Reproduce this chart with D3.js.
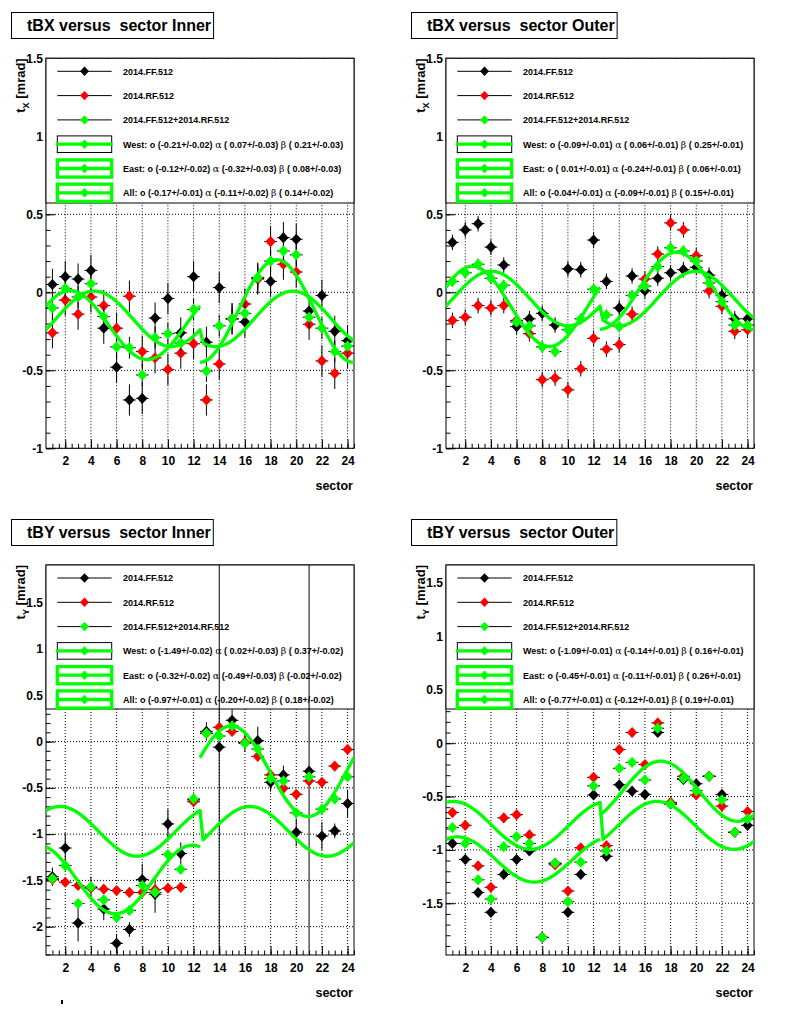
<!DOCTYPE html>
<html>
<head>
<meta charset="utf-8">
<script src="https://cdn.jsdelivr.net/npm/d3@7"></script>
<style>
  body {margin: 0; background: #fff;}
  text {font-family: "Liberation Sans", Arial, Helvetica, sans-serif; font-weight: bold;}
</style>
</head>
<body>
<div id="chart"></div>
<script>
const sectors = [1,2,3,4,5,6,7,8,9,10,11,12,13,14,15,16,17,18,19,20,21,22,23,24]
const xTickLabels = [2,4,6,8,10,12,14,16,18,20,22,24]
const seriesNames = ["2014.FF.512", "2014.RF.512", "2014.FF.512+2014.RF.512"]
const fitNames = ["West", "East", "All"]

// tBX Inner
const tbxInnerFF = [0.05,0.10,0.085,0.14,-0.23,-0.48,-0.69,-0.68,-0.165,-0.04,-0.26,0.10,-0.32,0.03,-0.17,-0.19,0.09,0.07,0.35,0.34,-0.12,-0.02,-0.25,-0.31]
const tbxInnerRF = [-0.26,-0.05,-0.14,-0.03,-0.085,-0.23,-0.025,-0.38,-0.42,-0.495,-0.39,-0.33,-0.69,-0.46,-0.17,-0.075,0.085,0.325,0.18,0.13,-0.205,-0.44,-0.52,-0.39]
const tbxInnerAll = [-0.10,0.025,-0.03,0.055,-0.155,-0.35,-0.355,-0.53,-0.29,-0.265,-0.325,-0.11,-0.505,-0.215,-0.17,-0.135,0.095,0.20,0.265,0.24,-0.16,-0.23,-0.38,-0.345]
const tbxInnerErr = [0.1, 0.1, 0.07]
const tbxInnerO = [[-0.21,0.02],[-0.12,0.02],[-0.17,0.01]]
const tbxInnerA = [[0.07,0.03],[-0.32,0.03],[-0.11,0.02]]
const tbxInnerB = [[0.21,0.03],[0.08,0.03],[0.14,0.02]]

// tBX Outer
const tbxOuterFF = [0.32,0.40,0.44,0.29,0.175,-0.22,-0.17,-0.135,-0.21,0.15,0.145,0.335,0.07,-0.10,0.105,0.01,0.09,0.125,0.145,0.16,0.11,-0.02,-0.17,-0.17]
const tbxOuterRF = [-0.18,-0.16,-0.085,-0.10,-0.085,-0.18,-0.265,-0.56,-0.55,-0.625,-0.49,-0.295,-0.365,-0.335,-0.14,0.085,0.245,0.445,0.40,0.235,0.01,-0.09,-0.25,-0.24]
const tbxOuterAll = [0.07,0.125,0.18,0.09,0.045,-0.19,-0.215,-0.35,-0.38,-0.24,-0.17,0.02,-0.145,-0.22,-0.02,0.04,0.165,0.285,0.265,0.20,0.06,-0.06,-0.21,-0.21]
const tbxOuterErr = [0.05, 0.05, 0.035]
const tbxOuterO = [[-0.09,0.01],[0.01,0.01],[-0.04,0.01]]
const tbxOuterA = [[0.06,0.01],[-0.24,0.01],[-0.09,0.01]]
const tbxOuterB = [[0.25,0.01],[0.06,0.01],[0.15,0.01]]

// tBY Inner
const tbyInnerFF = [-1.46,-1.15,-1.96,-1.58,-1.81,-2.18,-2.03,-1.49,-1.65,-0.89,-1.21,-0.63,0.11,-0.06,0.23,-0.01,0.01,-0.44,-0.36,-0.98,-0.32,-1.02,-0.965,-0.67]
const tbyInnerRF = [-1.49,-1.52,-1.555,-1.58,-1.595,-1.61,-1.63,-1.63,-1.60,-1.585,-1.575,-0.65,0.09,0.155,0.11,-0.01,-0.16,-0.36,-0.505,-0.57,-0.425,-0.44,-0.265,-0.085]
const tbyInnerAll = [-1.48,-1.34,-1.75,-1.57,-1.71,-1.90,-1.825,-1.555,-1.63,-1.22,-1.38,-0.62,0.09,0.06,0.17,-0.02,-0.08,-0.40,-0.425,-0.77,-0.38,-0.73,-0.62,-0.38]
const tbyInnerFFErr = [0.1,0.16,0.2,0.12,0.12,0.1,0.08,0.17,0.2,0.16,0.12,0.08,0.1,3,0.12,0.1,0.15,0.1,0.1,0.15,3,0.15,0.08,0.15]
const tbyInnerErr = [0.12, 0.03, 0.05]
const tbyInnerO = [[-1.49,0.02],[-0.32,0.02],[-0.97,0.01]]
const tbyInnerA = [[0.02,0.03],[-0.49,0.03],[-0.20,0.02]]
const tbyInnerB = [[0.37,0.02],[-0.02,0.02],[0.18,0.02]]

// tBY Outer
const tbyOuterFF = [-0.94,-1.09,-1.40,-1.585,-1.23,-1.09,-1.01,-1.82,-1.125,-1.585,-1.23,-0.485,-1.06,-0.39,-0.45,-0.48,0.10,-0.57,-0.34,-0.38,-0.31,-0.48,-0.835,-0.77]
const tbyOuterRF = [-0.65,-0.77,-1.15,-1.35,-0.70,-0.67,-0.86,-1.82,-1.14,-1.385,-0.98,-0.32,-0.96,-0.06,0.10,-0.20,0.19,-0.555,-0.31,-0.485,-0.31,-0.59,-0.835,-0.64]
const tbyOuterAll = [-0.79,-0.94,-1.28,-1.46,-0.97,-0.875,-0.94,-1.82,-1.125,-1.485,-1.115,-0.40,-1.01,-0.235,-0.18,-0.345,0.14,-0.57,-0.33,-0.445,-0.31,-0.53,-0.835,-0.71]
const tbyOuterErr = [0.04, 0.03, 0.025]
const tbyOuterO = [[-1.09,0.01],[-0.45,0.01],[-0.77,0.01]]
const tbyOuterA = [[-0.14,0.01],[-0.11,0.01],[-0.12,0.01]]
const tbyOuterB = [[0.16,0.01],[0.26,0.01],[0.19,0.01]]

const panels = [
  {title: "tBX versus  sector Inner", axis: "X", ff: tbxInnerFF, rf: tbxInnerRF, all: tbxInnerAll, err: tbxInnerErr, O: tbxInnerO, A: tbxInnerA, B: tbxInnerB,
    ox: 0, titleY: 12.5, top: 58.3, bottom: 448.3, legendBottom: 203, yDomain: [-1, 1.5]},
  {title: "tBX versus  sector Outer", axis: "X", ff: tbxOuterFF, rf: tbxOuterRF, all: tbxOuterAll, err: tbxOuterErr, O: tbxOuterO, A: tbxOuterA, B: tbxOuterB,
    ox: 400, titleY: 12.5, top: 58.3, bottom: 448.3, legendBottom: 203, yDomain: [-1, 1.5]},
  {title: "tBY versus  sector Inner", axis: "Y", ff: tbyInnerFF, rf: tbyInnerRF, all: tbyInnerAll, err: tbyInnerErr, ffErr: tbyInnerFFErr, O: tbyInnerO, A: tbyInnerA, B: tbyInnerB,
    ox: 0, titleY: 519.5, top: 565, bottom: 955, legendBottom: 709, yDomain: [-2.306, 1.908]},
  {title: "tBY versus  sector Outer", axis: "Y", ff: tbyOuterFF, rf: tbyOuterRF, all: tbyOuterAll, err: tbyOuterErr, O: tbyOuterO, A: tbyOuterA, B: tbyOuterB,
    ox: 400, titleY: 519.5, top: 565, bottom: 955, legendBottom: 709, yDomain: [-1.985, 1.67]}
]

const colors = ["#000000", "#ff0000", "#00ff00"]
const green = "#00ff00"

const svg = d3.select("#chart").append("svg").attr("width", 800).attr("height", 1014)
svg.append("rect").attr("width", 800).attr("height", 1014).attr("fill", "#fff")

const diamond = (w, h) => `M0,${-h}L${w},0L0,${h}L${-w},0Z`
const num = v => (v < 0 ? "-" : " ") + Math.abs(v).toFixed(2)
const tickFmt = d => String(+d.toFixed(1))

// sector -> phi (deg); west = sectors 1-12, east = 13-24
function fitFunction(axis, side, o, a, b) {
  return s => {
    const west = side === "West" || (side === "All" && s <= 12.5)
    const phi = (west ? 90 - 30 * s : 30 * (s - 21)) * Math.PI / 180
    if (axis === "X") return o + a * Math.sin(phi) + b * Math.cos(phi)
    return west ? o - a * Math.cos(phi) + b * Math.sin(phi) : o + a * Math.cos(phi) - b * Math.sin(phi)
  }
}

panels.forEach((p, pi) => drawPanel(p, pi))

svg.append("rect").attr("x", 61).attr("y", 1000).attr("width", 2).attr("height", 4).attr("fill", "#000")

function drawPanel(p, pi) {
  const left = p.ox + 46, right = p.ox + 354
  const x = d3.scaleLinear().domain([0.5, 24.5]).range([left, right])
  const y = d3.scaleLinear().domain(p.yDomain).range([p.bottom, p.top])
  const g = svg.append("g").attr("class", "panel")

  // title box
  const title = g.append("text").attr("x", p.ox + 27).attr("y", p.titleY + 18).attr("font-size", 16)
    .style("white-space", "pre").text(p.title)
  const tw = title.node().getComputedTextLength()
  g.insert("rect", "text").attr("x", p.ox + 11.5).attr("y", p.titleY).attr("width", tw + 18).attr("height", 26)
    .attr("fill", "#fff").attr("stroke", "#000")

  const clipId = "clip" + pi
  g.append("clipPath").attr("id", clipId).append("rect")
    .attr("x", left).attr("y", p.top).attr("width", right - left).attr("height", p.bottom - p.top)

  // grid
  const yMajor = d3.range(Math.ceil(p.yDomain[0] * 2), Math.floor(p.yDomain[1] * 2) + 1).map(v => v / 2)
  const yMinor = d3.range(Math.ceil(p.yDomain[0] * 10), Math.floor(p.yDomain[1] * 10) + 1).map(v => v / 10)
  const xMinor = d3.range(1, 49).map(v => v / 2 + 0.5)
  const grid = g.append("g").attr("stroke", "#000").attr("stroke-dasharray", "1,2").attr("stroke-width", 1)
  grid.selectAll("line.gx").data(xTickLabels).join("line").attr("class", "gx")
    .attr("x1", d => x(d)).attr("x2", d => x(d)).attr("y1", p.top).attr("y2", p.bottom)
  grid.selectAll("line.gy").data(yMajor).join("line").attr("class", "gy")
    .attr("x1", left).attr("x2", right).attr("y1", d => y(d)).attr("y2", d => y(d))

  // axes
  const styleAxis = a => {
    a.attr("font-family", null).attr("font-size", 12)
    a.select(".domain").remove()
    a.selectAll("line").attr("stroke", "#000")
  }
  g.append("g").attr("transform", `translate(0,${p.bottom})`)
    .call(d3.axisBottom(x).tickValues(xMinor).tickSize(-4.5).tickFormat("")).call(styleAxis)
  g.append("g").attr("transform", `translate(0,${p.bottom})`)
    .call(d3.axisBottom(x).tickValues(xTickLabels).tickSize(-9).tickPadding(8.2).tickFormat(d3.format("d"))).call(styleAxis)
  g.append("g").attr("transform", `translate(${left},0)`)
    .call(d3.axisLeft(y).tickValues(yMinor).tickSize(-4.5).tickFormat("")).call(styleAxis)
  g.append("g").attr("transform", `translate(${left},0)`)
    .call(d3.axisLeft(y).tickValues(yMajor).tickSize(-9).tickPadding(3).tickFormat(tickFmt)).call(styleAxis)

  g.append("rect").attr("x", left).attr("y", p.top).attr("width", right - left).attr("height", p.bottom - p.top)
    .attr("fill", "none").attr("stroke", "#000")

  g.append("text").attr("x", right - 1).attr("y", p.bottom + 42).attr("font-size", 12.5)
    .attr("text-anchor", "end").text("sector")

  const yt = g.append("text").attr("transform", `translate(${p.ox + 25},${p.top}) rotate(-90)`)
    .attr("text-anchor", "end").attr("font-size", 13)
  yt.append("tspan").text("t")
  yt.append("tspan").attr("font-size", 9).attr("dy", 4).text(p.axis)
  yt.append("tspan").attr("dy", -4).text(" [mrad]")

  // legend
  const lg = g.append("g")
  lg.append("rect").attr("x", left).attr("y", p.top).attr("width", right - left).attr("height", p.legendBottom - p.top)
    .attr("fill", "#fff").attr("stroke", "#000")
  const rowY = i => p.top + 13 + i * 24.3
  const lx0 = p.ox + 57.3, lx1 = p.ox + 111.7, lxm = p.ox + 84.5
  seriesNames.forEach((name, i) => {
    const cy = rowY(i)
    lg.append("line").attr("x1", lx0).attr("x2", lx1).attr("y1", cy).attr("y2", cy).attr("stroke", "#000")
    lg.append("path").attr("d", diamond(4.5, 4.7)).attr("transform", `translate(${lxm},${cy})`).attr("fill", colors[i])
    lg.append("text").attr("x", p.ox + 123).attr("y", cy + 3.3).attr("font-size", 9).text(name)
  })
  fitNames.forEach((name, k) => {
    const cy = rowY(k + 3)
    if (k === 0) {
      lg.append("rect").attr("x", lx0).attr("y", cy - 8.3).attr("width", lx1 - lx0).attr("height", 16.6)
        .attr("fill", "none").attr("stroke", "#000")
      lg.append("line").attr("x1", lx0 - 1.3).attr("x2", lx1 + 1).attr("y1", cy).attr("y2", cy)
        .attr("stroke", green).attr("stroke-width", 3.3)
    } else {
      lg.append("rect").attr("x", lx0).attr("y", cy - 8.6).attr("width", lx1 - lx0).attr("height", 17.2)
        .attr("fill", "none").attr("stroke", green).attr("stroke-width", 3.3)
      lg.append("line").attr("x1", lx0).attr("x2", lx1).attr("y1", cy).attr("y2", cy)
        .attr("stroke", green).attr("stroke-width", 3.3)
    }
    lg.append("path").attr("d", diamond(4.5, 4.7)).attr("transform", `translate(${lxm},${cy})`).attr("fill", green)
    const t = lg.append("text").attr("x", p.ox + 123).attr("y", cy + 3.3).attr("font-size", 9).style("white-space", "pre")
    t.append("tspan").text(`${name}: o (${num(p.O[k][0])}+/-${p.O[k][1].toFixed(2)}) `)
    t.append("tspan").attr("font-family", "DejaVu Serif").attr("font-weight", "normal").attr("font-size", 9.5).text("\u03b1")
    t.append("tspan").text(` (${num(p.A[k][0])}+/-${p.A[k][1].toFixed(2)}) `)
    t.append("tspan").attr("font-family", "DejaVu Serif").attr("font-weight", "normal").attr("font-size", 9.5).text("\u03b2")
    t.append("tspan").text(` (${num(p.B[k][0])}+/-${p.B[k][1].toFixed(2)})`)
  })

  // data points
  const plot = g.append("g").attr("clip-path", `url(#${clipId})`)
  const series = [p.ff, p.rf, p.all]
  series.forEach((vals, si) => {
    const errs = si === 0 && p.ffErr ? p.ffErr : sectors.map(() => p.err[si])
    const pts = sectors.map((s, i) => ({s, v: vals[i], e: errs[i]}))
    const sg = plot.append("g")
    sg.selectAll("line.ex").data(pts).join("line").attr("class", "ex")
      .attr("x1", d => x(d.s - 0.5)).attr("x2", d => x(d.s + 0.5)).attr("y1", d => y(d.v)).attr("y2", d => y(d.v))
      .attr("stroke", "#000")
    sg.selectAll("line.ey").data(pts).join("line").attr("class", "ey")
      .attr("x1", d => x(d.s)).attr("x2", d => x(d.s)).attr("y1", d => y(d.v - d.e)).attr("y2", d => y(d.v + d.e))
      .attr("stroke", "#000")
    sg.selectAll("path").data(pts).join("path").attr("d", diamond(5.2, 5.6))
      .attr("transform", d => `translate(${x(d.s)},${y(d.v)})`).attr("fill", colors[si])
  })

  // fit curves
  const ranges = [[0.5, 12.5], [12.5, 24.5], [0.5, 24.5]]
  const line = d3.line().x(d => x(d[0])).y(d => y(d[1]))
  fitNames.forEach((name, k) => {
    const f = fitFunction(p.axis, name, p.O[k][0], p.A[k][0], p.B[k][0])
    const [a, b] = ranges[k]
    const n = k === 2 ? 100 : 50
    const pts = d3.range(n + 1).map(i => a + (b - a) * i / n).map(s => [s, f(s)])
    plot.append("path").attr("d", line(pts)).attr("fill", "none").attr("stroke", green).attr("stroke-width", 3.3)
      .attr("stroke-linejoin", "round")
  })
}
</script>
</body>
</html>
